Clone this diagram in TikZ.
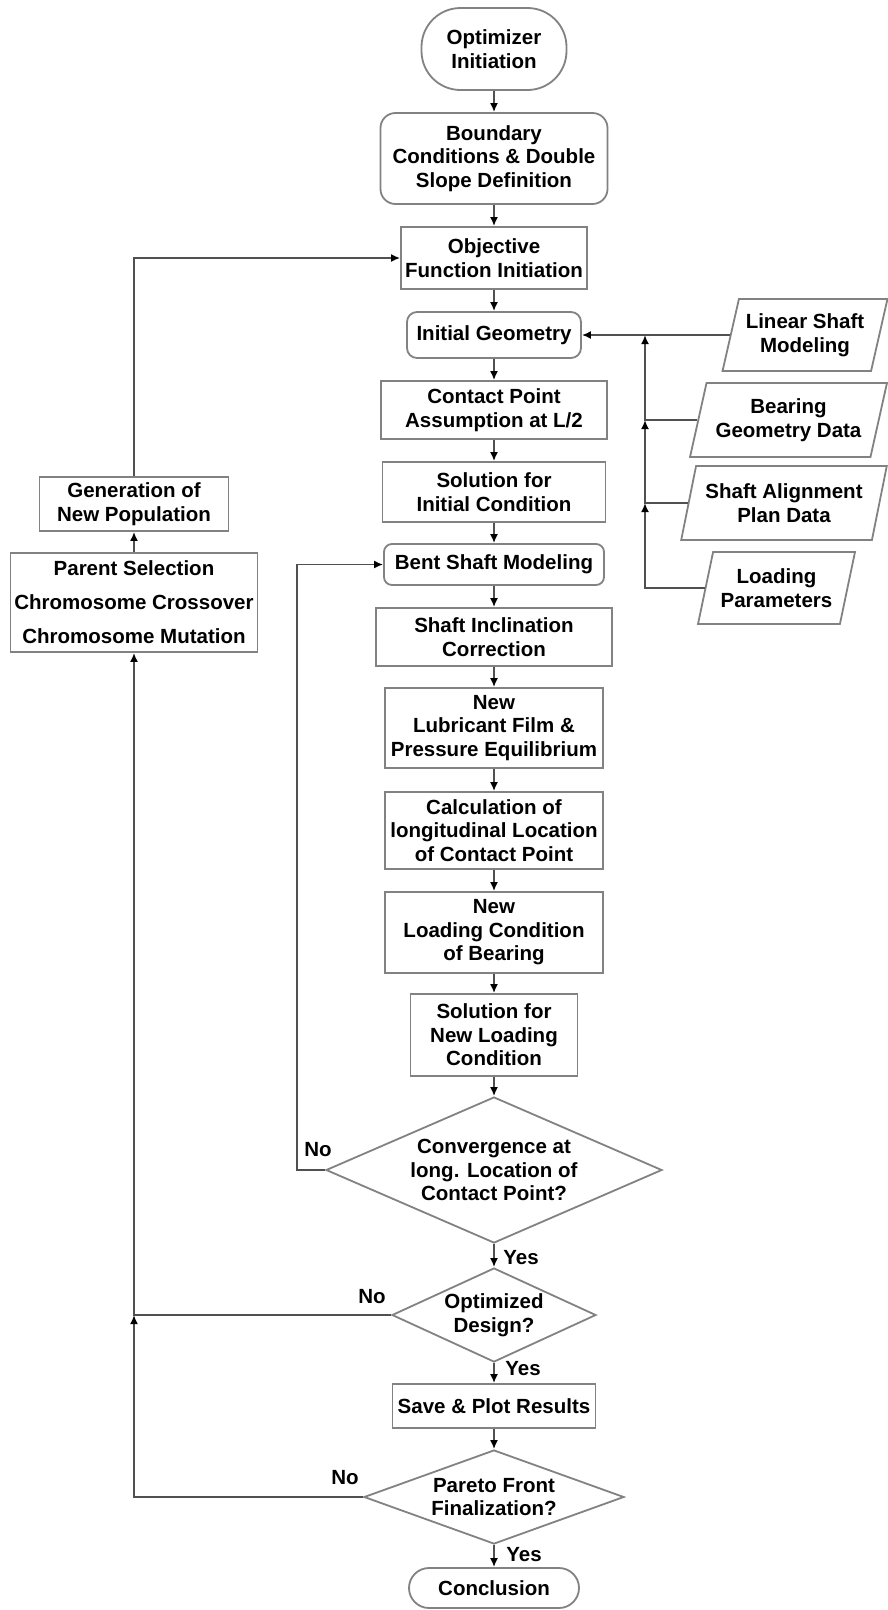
\documentclass[tikz,border=0pt]{standalone}
\usepackage{fontspec}
\setmainfont{Liberation Sans}
\usetikzlibrary{shapes.geometric,shapes.misc,arrows.meta}
\definecolor{boxgray}{RGB}{130,130,130}
\definecolor{linegray}{RGB}{80,80,80}
\begin{document}
\begin{tikzpicture}[x=1pt,y=-1pt,
  font=\fontsize{20.5}{23.5}\selectfont\bfseries,
  box/.style={draw=boxgray, line width=1.8pt, fill=white, align=center, inner sep=0pt, text=black},
  rbox/.style={box, rounded corners=#1},
  dia/.style={box, diamond},
  para/.style={box, trapezium, trapezium left angle=71, trapezium right angle=109, trapezium stretches=true},
  conn/.style={draw=linegray, line width=1.8pt},
  arr/.style={conn, -{Latex[length=9pt,width=8pt,color=black]}},
  lbl/.style={inner sep=0pt, text=black}
]
\useasboundingbox (0,0) rectangle (888,1610);
\fill[white] (0,0) rectangle (888,1610);

% main column
\node[rbox=39pt, minimum width=145pt, minimum height=82pt] (opt) at (494,49) {Optimizer\\Initiation};
\node[rbox=15pt, minimum width=227pt, minimum height=91pt] (bc) at (494,158.5) {Boundary\\Conditions \& Double\\Slope Definition};
\node[box, minimum width=186pt, minimum height=62pt] (obj) at (494,258) {Objective\\Function Initiation};
\node[rbox=10pt, minimum width=174pt, minimum height=46pt] (ig) at (494,335) {Initial Geometry};
\node[box, minimum width=226pt, minimum height=58pt] (cp) at (494,410) {Contact Point\\Assumption at L/2};
\node[box, minimum width=223pt, minimum height=60pt] (sic) at (494,492) {Solution for\\Initial Condition};
\node[rbox=8pt, minimum width=220pt, minimum height=41pt] (bsm) at (494,564.5) {Bent Shaft Modeling};
\node[box, minimum width=236pt, minimum height=58pt] (sinc) at (494,637) {Shaft Inclination\\Correction};
\node[box, minimum width=218pt, minimum height=80pt] (lub) at (494,728) {New\\Lubricant Film \&\\Pressure Equilibrium};
\node[box, minimum width=218pt, minimum height=77pt] (calc) at (494,830.5) {Calculation of\\longitudinal Location\\of Contact Point};
\node[box, minimum width=218pt, minimum height=81pt] (nlc) at (494,932.5) {New\\Loading Condition\\of Bearing};
\node[box, minimum width=167pt, minimum height=82pt] (snl) at (494,1035) {Solution for\\New Loading\\Condition};
\node[dia, shape aspect=2.3, minimum width=336pt, minimum height=146pt] (conv) at (494,1170) {Convergence at\\long. Location of\\Contact Point?};
\node[dia, shape aspect=2.17, minimum width=204pt, minimum height=94pt] (optd) at (494,1315) {Optimized\\Design?};
\node[box, minimum width=203pt, minimum height=44pt] (save) at (494,1406) {Save \& Plot Results};
\node[dia, shape aspect=2.77, minimum width=260pt, minimum height=94pt] (par) at (494,1497) {Pareto Front\\Finalization?};
\node[rbox=20pt, minimum width=170pt, minimum height=40pt] (conc) at (494,1588) {Conclusion};

% left column
\node[box, minimum width=189pt, minimum height=54pt] (gen) at (134,504) {Generation of\\New Population};
\node[box, minimum width=247pt, minimum height=99pt, font=\fontsize{20.5}{34}\selectfont\bfseries] (psel) at (134,602.5) {Parent Selection\\Chromosome Crossover\\Chromosome Mutation};

% inputs
\node[para, minimum width=165pt, minimum height=72pt] (lsm) at (805,335) {Linear Shaft\\Modeling};
\node[para, minimum width=197pt, minimum height=74pt] (bgd) at (788.5,420) {Bearing\\Geometry Data};
\node[para, minimum width=206pt, minimum height=74pt] (sap) at (784,503) {Shaft Alignment\\Plan Data};
\node[para, minimum width=157pt, minimum height=72pt] (lp) at (776.5,588) {Loading\\Parameters};

\coordinate (j1) at (645,335);
\coordinate (j2) at (645,420);
\coordinate (j3) at (645,503);
\coordinate (j4) at (134,1315);
\coordinate (c1) at (297,1170);

% main flow
\draw[arr] (opt) -- (bc);
\draw[arr] (bc) -- (obj);
\draw[arr] (obj) -- (ig);
\draw[arr] (ig) -- (cp);
\draw[arr] (cp) -- (sic);
\draw[arr] (sic) -- (bsm);
\draw[arr] (bsm) -- (sinc);
\draw[arr] (sinc) -- (lub);
\draw[arr] (lub) -- (calc);
\draw[arr] (calc) -- (nlc);
\draw[arr] (nlc) -- (snl);
\draw[arr] (snl) -- (conv);
\draw[arr] (conv) -- (optd);
\draw[arr] (optd) -- (save);
\draw[arr] (save) -- (par);
\draw[arr] (par) -- (conc);

% inputs
\draw[arr] (lsm.west) -- (ig.east);
\draw[arr] (bgd.west) -| (j1);
\draw[arr] (sap.west) -| (j2);
\draw[arr] (lp.west) -| (j3);

% loops
\draw[arr] (conv.west) -- (c1) |- (bsm.west);
\draw[arr] (optd.west) -| (psel.south);
\draw[arr] (par.west) -| (j4);
\draw[arr] (psel.north) -- (gen.south);
\draw[arr] (gen.north) |- (obj.west);

% labels
\node[lbl] (no1) at (318,1150) {No};
\node[lbl] (yes1) at (521,1258) {Yes};
\node[lbl] (no2) at (372,1297) {No};
\node[lbl] (yes2) at (523,1369) {Yes};
\node[lbl] (no3) at (345,1478) {No};
\node[lbl] (yes3) at (524,1555) {Yes};
\end{tikzpicture}
\end{document}
